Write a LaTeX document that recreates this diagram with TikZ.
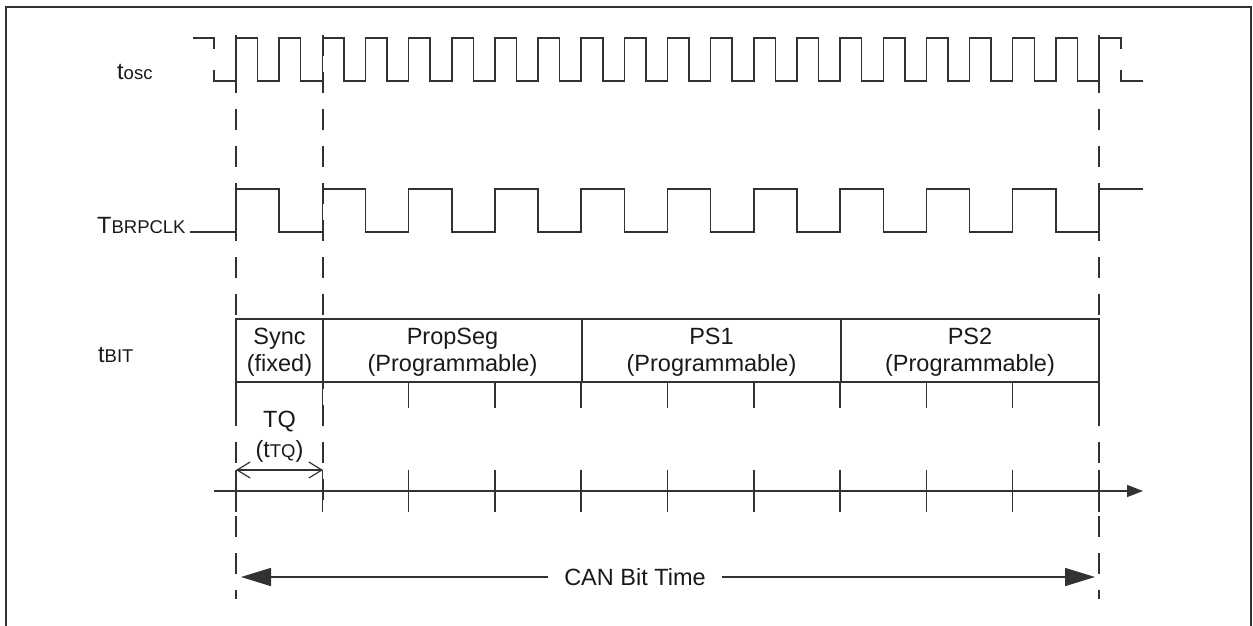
\documentclass[tikz,border=0pt]{standalone}
\usepackage{fontspec}
\setmainfont{Liberation Sans}
\usetikzlibrary{arrows.meta}
\definecolor{lc}{RGB}{50,50,50}
\definecolor{tc}{RGB}{25,25,25}
\newcommand\lowtxt[1]{{\fontsize{18.5}{20}\selectfont #1}}
\begin{document}
\begin{tikzpicture}[x=1pt,y=-1pt,
  wave/.style={draw=lc,line width=1.5pt,line join=miter},
  guide/.style={draw=lc,line width=1.4pt,dash pattern=on 21pt off 16pt},
  frame/.style={draw=lc,line width=2.2pt},
  lbl/.style={inner sep=0pt,text=tc,font=\fontsize{23.5}{27}\selectfont},
  seg/.style={lbl,align=center}]
\useasboundingbox (0,0) rectangle (1253,626);
% frame
\draw[frame] (6,626) -- (6,7) -- (1251,7) -- (1251,626);
% dashed guides
\coordinate (gAt) at (236,35);  \coordinate (gAb) at (236,599);
\coordinate (gBt) at (323,35);  \coordinate (gBb) at (323,512);
\coordinate (gCt) at (1099,35); \coordinate (gCb) at (1099,599);
\draw[guide] (gAt) -- (gAb);
\draw[guide] (gBt) -- (gBb);
\draw[guide] (gCt) -- (gCb);
% labels
\node[lbl,anchor=base west] (tosc) at (117,79) {t\lowtxt{osc}};
\node[lbl,anchor=base west] (tbrp) at (97,233) {T\lowtxt{BRPCLK}};
\node[lbl,anchor=base west] (tbit) at (98,362) {t\lowtxt{BIT}};
% tosc waveform
\draw[wave] (193,38) -- (214,38) -- (214,49);
\draw[wave] (214,70) -- (214,81) -- (236,81)
  \foreach \i in {1,...,20}{ -- ++(0,-43) -- ++(21.575,0) -- ++(0,43) -- ++(21.575,0)}
  -- ++(0,-43) -- (1121,38) -- (1121,49);
\draw[wave] (1121,70) -- (1121,81) -- (1143,81);
% TBRPCLK waveform
\draw[wave] (tbrp.base east) ++(4,-1) -- (236,232)
  \foreach \i in {1,...,10}{ -- ++(0,-43) -- ++(43.15,0) -- ++(0,43) -- ++(43.15,0)}
  -- ++(0,-43) -- (1143,189);
% bit segments
\draw[wave] (236,319) rectangle (1099,382);
\foreach \x in {323,582,841} \draw[wave] (\x,319) -- (\x,382);
\node[seg] (sync) at (279.5,352) {Sync\\(fixed)};
\node[seg] (prop) at (452.5,352) {PropSeg\\(Programmable)};
\node[seg] (ps1) at (711.5,352) {PS1\\(Programmable)};
\node[seg] (ps2) at (970,352) {PS2\\(Programmable)};
\foreach \k in {0,...,10} \draw[wave] ({236+86.3*\k},382) -- ++(0,26);
% TQ
\node[lbl,align=center,font=\fontsize{23.5}{30}\selectfont] (tq) at (279.5,437) {TQ\\(t\lowtxt{TQ})};
\coordinate (tqa) at (236,470); \coordinate (tqb) at (323,470);
\draw[draw=lc,line width=1.2pt,{Straight Barb[length=13pt,width=16pt]}-{Straight Barb[length=13pt,width=16pt]}] (tqa) -- (tqb);
% time axis
\coordinate (axa) at (214,491); \coordinate (axb) at (1143,491);
\draw[wave,-{Triangle[length=16pt,width=12pt]}] (axa) -- (axb);
\foreach \k in {0,...,10} \draw[wave] ({236+86.3*\k},470) -- ++(0,42);
% CAN bit time
\coordinate (cba) at (241,577); \coordinate (cbb) at (1095,577);
\draw[wave,{Triangle[length=30pt,width=18pt]}-{Triangle[length=30pt,width=18pt]}] (cba) -- (cbb);
\node[lbl,fill=white,inner xsep=16pt,inner ysep=4pt] (cbt) at (635,577) {CAN Bit Time};
\end{tikzpicture}
\end{document}
